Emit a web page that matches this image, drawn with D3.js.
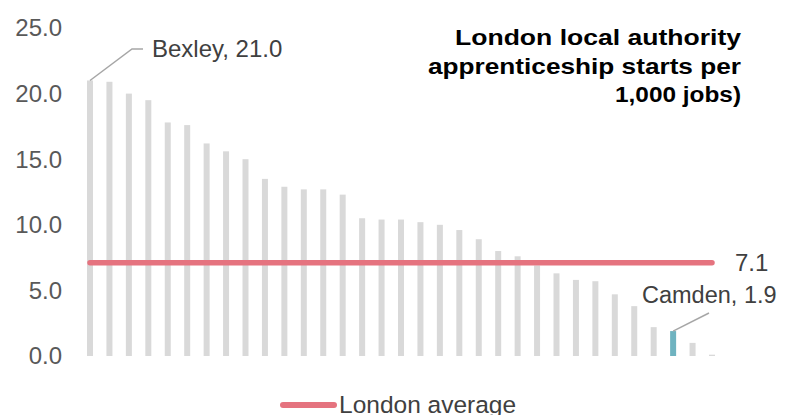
<!DOCTYPE html>
<html>
<head>
<meta charset="utf-8">
<script src="https://cdn.jsdelivr.net/npm/d3@7"></script>
<style>
  html, body { margin: 0; padding: 0; background: #ffffff; }
  svg { display: block; font-family: "Liberation Sans", Arial, sans-serif; }
</style>
</head>
<body>
<svg id="chart" width="785" height="415"></svg>
<script>
// ---- Data ----
const categories = [
  "Bexley", "LA 2", "LA 3", "LA 4", "LA 5", "LA 6", "LA 7", "LA 8", "LA 9", "LA 10",
  "LA 11", "LA 12", "LA 13", "LA 14", "LA 15", "LA 16", "LA 17", "LA 18", "LA 19", "LA 20",
  "LA 21", "LA 22", "LA 23", "LA 24", "LA 25", "LA 26", "LA 27", "LA 28", "LA 29", "LA 30",
  "Camden", "LA 32", "LA 33"
];
const values = [
  21.0, 20.9, 20.0, 19.5, 17.8, 17.6, 16.2, 15.6, 15.0, 13.5,
  12.9, 12.7, 12.7, 12.3, 10.5, 10.4, 10.4, 10.2, 10.0, 9.6,
  8.9, 8.0, 7.6, 6.9, 6.3, 5.8, 5.7, 4.7, 3.8, 2.2,
  1.9, 1.0, 0.1
];
const londonAverage = 7.1;
const yTicks = [0, 5, 10, 15, 20, 25];
const titleLines = ["London local authority", "apprenticeship starts per", "1,000 jobs)"];
const legendLabel = "London average";
const highlighted = "Camden";

// ---- Layout ----
const svg = d3.select("#chart");
const x = d3.scalePoint().domain(categories).range([90, 712]);
const y = d3.scaleLinear().domain([0, 25]).range([356, 28]);
const barW = 6;

// y tick labels
svg.append("g").selectAll("text").data(yTicks).join("text")
  .attr("x", 62).attr("y", d => y(d)).attr("dy", "0.35em")
  .attr("text-anchor", "end")
  .attr("font-size", 24).attr("fill", "#595959")
  .text(d => d3.format(".1f")(d));

// bars
const data = categories.map((c, i) => ({ c, v: values[i] }));
svg.append("g").selectAll("rect").data(data).join("rect")
  .attr("x", d => x(d.c) - barW / 2)
  .attr("y", d => y(d.v))
  .attr("width", barW)
  .attr("height", d => y(0) - y(d.v))
  .attr("fill", d => d.c === highlighted ? "#6fb3c0" : "#d9d9d9");

// average line
svg.append("line")
  .attr("x1", x(categories[0])).attr("x2", x(categories[categories.length - 1]))
  .attr("y1", y(londonAverage)).attr("y2", y(londonAverage))
  .attr("stroke", "#e5737f").attr("stroke-width", 5.5).attr("stroke-linecap", "round");

svg.append("text")
  .attr("x", 735).attr("y", y(londonAverage)).attr("dy", "0.35em")
  .attr("font-size", 24).attr("fill", "#404040")
  .text(d3.format(".1f")(londonAverage));

// Bexley annotation
const b0 = data[0];
svg.append("polyline")
  .attr("points", [[x(b0.c), y(b0.v)], [132, 49], [143, 49]].map(p => p.join(",")).join(" "))
  .attr("fill", "none").attr("stroke", "#a6a6a6").attr("stroke-width", 1.5);
svg.append("text")
  .attr("x", 152).attr("y", 57).attr("font-size", 24).attr("fill", "#404040")
  .text(`${b0.c}, ${d3.format(".1f")(b0.v)}`);

// Camden annotation
const cm = data.find(d => d.c === highlighted);
svg.append("line")
  .attr("x1", x(cm.c)).attr("y1", y(cm.v))
  .attr("x2", 709).attr("y2", 313)
  .attr("stroke", "#a6a6a6").attr("stroke-width", 1.5);
svg.append("text")
  .attr("x", 642).attr("y", 303).attr("font-size", 23.5).attr("fill", "#404040")
  .text(`${cm.c}, ${d3.format(".1f")(cm.v)}`);

// Title
const titleWidths = [286, 313, 126];
svg.append("text")
  .attr("text-anchor", "end").attr("font-size", 22).attr("font-weight", "bold").attr("fill", "#000")
  .selectAll("tspan").data(titleLines).join("tspan")
  .attr("x", 741).attr("y", (d, i) => 45 + i * 28.5)
  .attr("textLength", (d, i) => titleWidths[i])
  .attr("lengthAdjust", "spacingAndGlyphs")
  .text(d => d);

// Legend
svg.append("line")
  .attr("x1", 283).attr("x2", 334).attr("y1", 405).attr("y2", 405)
  .attr("stroke", "#e5737f").attr("stroke-width", 6).attr("stroke-linecap", "round");
svg.append("text")
  .attr("x", 339).attr("y", 413).attr("font-size", 24.5).attr("fill", "#404040")
  .text(legendLabel);
</script>
</body>
</html>
